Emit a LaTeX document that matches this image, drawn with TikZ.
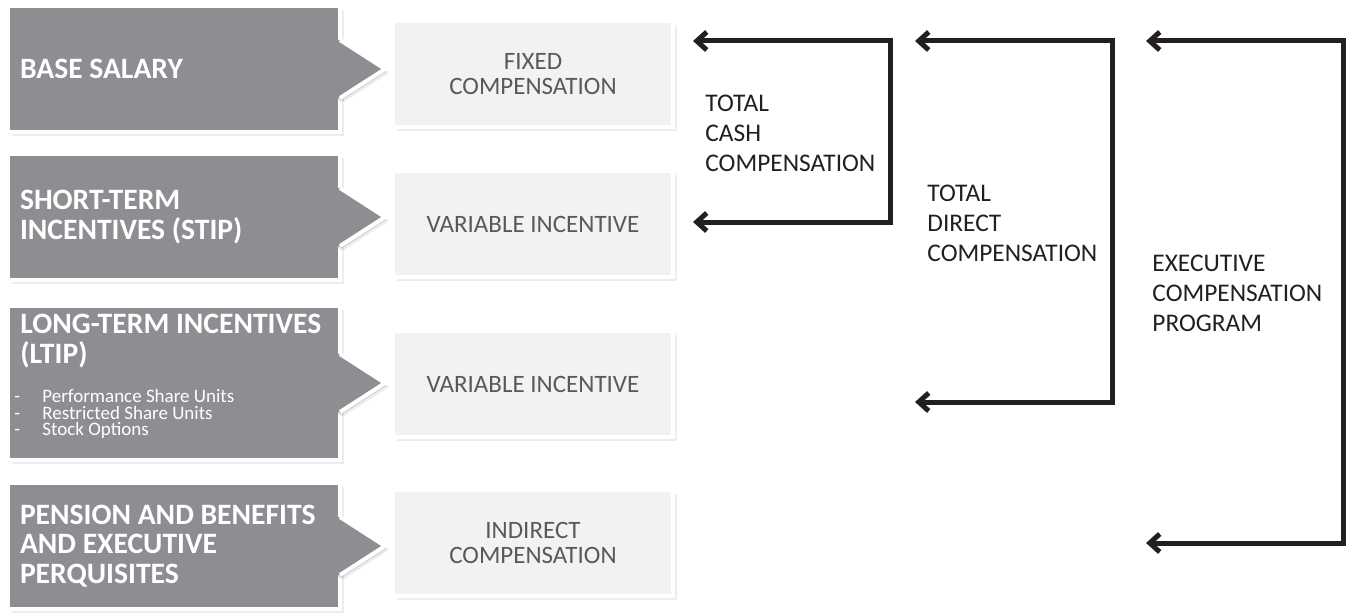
\documentclass[tikz,border=0pt]{standalone}
\usepackage{fontspec}
\setmainfont{Carlito}
\usetikzlibrary{arrows.meta, positioning, shadows}

\definecolor{compdark}{HTML}{8D8E92}
\definecolor{complight}{HTML}{F1F2F4}
\definecolor{comptext}{HTML}{58595B}
\definecolor{compink}{HTML}{231F20}

\begin{document}
\begin{tikzpicture}[
    x=0.5pt, y=-0.5pt,
    boxshadow/.style={drop shadow={shadow xshift=2pt, shadow yshift=-2pt,
                      fill=black, opacity=0.07},
                      drop shadow={shadow xshift=1pt, shadow yshift=-1.2pt,
                      fill=black, opacity=0.12}},
    dark/.style={rectangle, fill=compdark, draw=white, line width=2pt, outer sep=0pt,
                 minimum width=166pt, minimum height=63pt, text width=154pt,
                 inner xsep=6pt, align=flush left, text=white,
                 font=\bfseries\fontsize{14.8}{14.9}\selectfont, boxshadow},
    darktext/.style={anchor=north west, inner sep=0pt, align=flush left, text=white,
                     font=\bfseries\fontsize{14.8}{14.9}\selectfont},
    chevron/.style={fill=compdark, boxshadow},
    chevronedge/.style={draw=white, line width=2pt, line join=round},
    light/.style={rectangle, fill=complight, draw=white, line width=2pt, outer sep=0pt,
                  minimum width=140pt, minimum height=53pt, align=center, text=comptext,
                  font=\fontsize{12.5}{12.5}\selectfont, boxshadow},
    sumtext/.style={anchor=north west, inner sep=0pt, align=flush left, text=compink,
                    font=\fontsize{12.7}{14.8}\selectfont},
    subtext/.style={anchor=north west, inner sep=0pt, align=flush left, text=white,
                    font=\fontsize{9.5}{8.3}\selectfont},
    bracket/.style={draw=compink, line width=2.5pt,
                    {Straight Barb[length=5pt,width=9pt]}-{Straight Barb[length=5pt,width=9pt]}},
]
\useasboundingbox (0,0) rectangle (1353,615);

% compensation elements
\node[dark] (base) at (174,69) {BASE SALARY};
\node[dark] (stip) at (174,217) {SHORT-TERM\\INCENTIVES (STIP)};
\node[dark, minimum height=77pt] (ltip) at (174,383) {};
\node[dark] (pens) at (174,546) {PENSION AND BENEFITS\\AND EXECUTIVE\\PERQUISITES};
\node[darktext] (ltipT) at (20,314) {LONG-TERM INCENTIVES\\(LTIP)};
\node[subtext] (ltipS) at (14,389)
      {\makebox[14pt][l]{-}Performance Share Units\\
       \makebox[14pt][l]{-}Restricted Share Units\\
       \makebox[14pt][l]{-}Stock Options};

\foreach \r in {base, stip, ltip, pens} {
  \fill[chevron] ([xshift=-2pt,yshift=14.5pt]\r.east) -- ([yshift=14.5pt]\r.east)
    -- ([xshift=22.5pt]\r.east) -- ([yshift=-14.5pt]\r.east)
    -- ([xshift=-2pt,yshift=-14.5pt]\r.east) -- cycle;
  \draw[chevronedge] ([yshift=14.5pt]\r.east) -- ([xshift=22.5pt]\r.east)
    -- ([yshift=-14.5pt]\r.east);
}

% compensation types
\node[light] (fixed) at (533,74) {FIXED\\COMPENSATION};
\node[light] (varshort) at (533,224) {VARIABLE INCENTIVE};
\node[light] (varlong) at (533,384) {VARIABLE INCENTIVE};
\node[light] (indirect) at (533,542.5) {INDIRECT\\COMPENSATION};

% groupings
\coordinate (cashTop) at (693,41);   \coordinate (cashBot) at (693,222);
\coordinate (cashX) at (890,130);
\coordinate (directTop) at (915,41); \coordinate (directBot) at (915,402);
\coordinate (directX) at (1112,220);
\coordinate (execTop) at (1146,41);  \coordinate (execBot) at (1146,543);
\coordinate (execX) at (1343,290);

\draw[bracket] (cashTop) -| (cashX) |- (cashBot);
\draw[bracket] (directTop) -| (directX) |- (directBot);
\draw[bracket] (execTop) -| (execX) |- (execBot);

\node[sumtext] (cash) at (705,95) {TOTAL\\CASH\\COMPENSATION};
\node[sumtext] (direct) at (927,185) {TOTAL\\DIRECT\\COMPENSATION};
\node[sumtext] (exec) at (1152,255) {EXECUTIVE\\COMPENSATION\\PROGRAM};
\end{tikzpicture}
\end{document}
